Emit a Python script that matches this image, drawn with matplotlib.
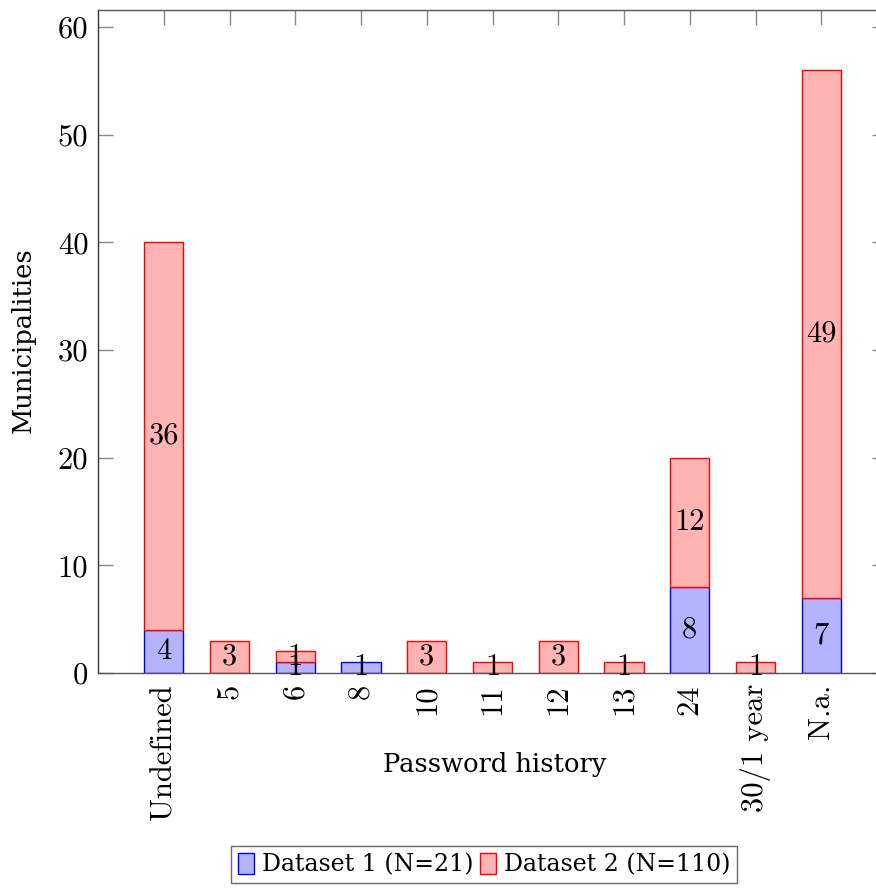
import matplotlib
matplotlib.use("Agg")
import matplotlib.pyplot as plt
import numpy as np

categories = ["Undefined", "5", "6", "8", "10", "11", "12", "13", "24", "30/1 year", "N.a."]
dataset1 = [4, 0, 1, 1, 0, 0, 0, 0, 8, 0, 7]
dataset2 = [36, 3, 1, 0, 3, 1, 3, 1, 12, 1, 49]
series_labels = ["Dataset 1 (N=21)", "Dataset 2 (N=110)"]
yticks = [0, 10, 20, 30, 40, 50, 60]
xlabel = "Password history"
ylabel = "Municipalities"

W, H = 876, 892
fig = plt.figure(figsize=(W / 100, H / 100), dpi=100)
ax = fig.add_axes([98 / W, 1 - 673 / H, (887 - 98) / W, (673 - 10) / H])

CM = "cmr10"
SERIF = "DejaVu Serif"
tick_fs = 22

x = np.arange(len(categories))
b1 = ax.bar(x, dataset1, width=0.6, color="#b3b3ff", edgecolor="#0000ff",
            linewidth=1.0, label=series_labels[0], zorder=2)
b2 = ax.bar(x, dataset2, bottom=dataset1, width=0.6, color="#ffb3b3",
            edgecolor="#ff0000", linewidth=1.0, label=series_labels[1], zorder=2)
for bars in (b1, b2):
    for p in bars.patches:
        if p.get_height() == 0:
            p.set_visible(False)

ax.bar_label(b1, labels=[str(v) if v else "" for v in dataset1], label_type="center",
             fontfamily=CM, fontsize=tick_fs, zorder=3)
ax.bar_label(b2, labels=[str(v) if v else "" for v in dataset2], label_type="center",
             fontfamily=CM, fontsize=tick_fs, zorder=3)

ax.set_xlim(-1, 11)
ax.set_ylim(0, 61.6)
ax.set_xticks(x)
ax.set_xticklabels(categories, rotation=90, fontfamily=CM, fontsize=tick_fs)
ax.set_yticks(yticks)
ax.set_yticklabels([str(v) for v in yticks], fontfamily=CM, fontsize=tick_fs)

ax.tick_params(axis="x", direction="in", length=11, width=1.0, color="#888888",
               bottom=False, top=True, labelbottom=True, pad=8)
ax.tick_params(axis="y", direction="in", length=11, width=1.0, color="#888888",
               left=True, right=True, pad=7)

for s in ax.spines.values():
    s.set_color("#555555")
    s.set_linewidth(1.0)
ax.spines["left"].set_color("#333333")

ax.set_xlabel(xlabel, fontfamily=SERIF, fontsize=18.5)
ax.xaxis.label.set_va("baseline")
ax.xaxis.set_label_coords((495 - 98) / 789, (673 - 772) / 663)
ax.set_ylabel(ylabel, fontfamily=SERIF, fontsize=18.5)
ax.yaxis.label.set_va("baseline")
ax.yaxis.set_label_coords((31 - 98) / 789, 0.5 + (341.5 - 340) / 663)

leg = fig.legend(handles=[b1, b2], labels=series_labels, loc="upper left",
                 bbox_to_anchor=(231 / W, 1 - 845.5 / H), ncol=2,
                 prop={"family": SERIF, "size": 17}, frameon=True, fancybox=False,
                 edgecolor="#444444", handlelength=0.68, handleheight=1.0,
                 handletextpad=0.34, columnspacing=0.25, borderpad=0.3,
                 borderaxespad=0)
leg.get_frame().set_linewidth(1.0)

fig.savefig("out.png", dpi=100)
